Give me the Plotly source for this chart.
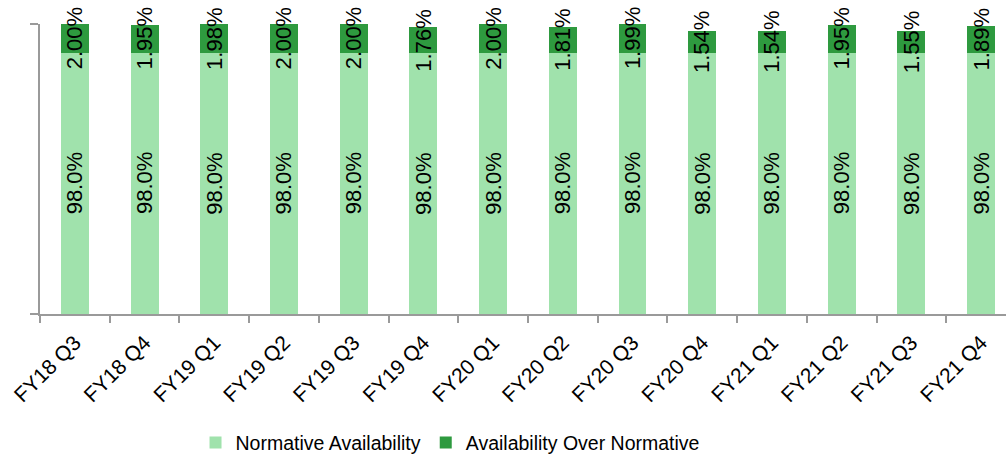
import plotly.graph_objects as go

quarters = ["FY18 Q3", "FY18 Q4", "FY19 Q1", "FY19 Q2", "FY19 Q3", "FY19 Q4", "FY20 Q1",
            "FY20 Q2", "FY20 Q3", "FY20 Q4", "FY21 Q1", "FY21 Q2", "FY21 Q3", "FY21 Q4"]
normative = [98.0] * 14
over_normative = [2.00, 1.95, 1.98, 2.00, 2.00, 1.76, 2.00, 1.81, 1.99, 1.54, 1.54, 1.95, 1.55, 1.89]

LIGHT = "#a0e2ac"
DARK = "#2e9a3f"
AXIS = "#9a9a9a"
FONT = "Arial, Liberation Sans, sans-serif"
Y_MIN, Y_MAX = 80, 100

fig = go.Figure()
fig.add_trace(go.Bar(x=quarters, y=normative, name="Normative Availability",
                     marker=dict(color=LIGHT, line=dict(width=0))))
fig.add_trace(go.Bar(x=quarters, y=over_normative, name="Availability Over Normative",
                     marker=dict(color=DARK, line=dict(width=0))))

# vertical value labels: centred on the visible part of each segment
for q, n, o in zip(quarters, normative, over_normative):
    fig.add_annotation(x=q, y=(Y_MIN + n) / 2, text=f"{n:.1f}%", textangle=-90,
                       showarrow=False, font=dict(size=22, color="#000000", family=FONT))
    fig.add_annotation(x=q, y=n + o / 2, text=f"{o:.2f}%", textangle=-90,
                       showarrow=False, font=dict(size=22, color="#000000", family=FONT))

fig.update_layout(
    barmode="stack",
    bargap=0.6,
    width=1006, height=459,
    margin=dict(l=40, r=0, t=24, b=145, autoexpand=False),
    plot_bgcolor="white", paper_bgcolor="white",
    font=dict(family=FONT, size=20, color="#000000"),
    showlegend=True,
    legend=dict(orientation="h", traceorder="normal", x=0.161, xanchor="left",
                yref="container", y=0.035, yanchor="middle",
                font=dict(size=19.5, family=FONT), itemwidth=30, tracegroupgap=0),
    xaxis=dict(range=[-0.5, 13.357], showline=True, linecolor=AXIS, linewidth=2,
               ticks="outside", tickson="boundaries", ticklen=7, tickcolor=AXIS, tickwidth=2,
               tickangle=-45, tickfont=dict(size=21, family=FONT), ticklabelstandoff=6,
               showgrid=False, automargin=False),
    yaxis=dict(range=[Y_MIN, Y_MAX], showline=True, linecolor=AXIS, linewidth=2,
               ticks="outside", ticklen=8, tickcolor=AXIS, tickwidth=2,
               tickvals=[Y_MIN, Y_MAX], showticklabels=False, showgrid=False, zeroline=False),
)

fig.write_html("out.html")
